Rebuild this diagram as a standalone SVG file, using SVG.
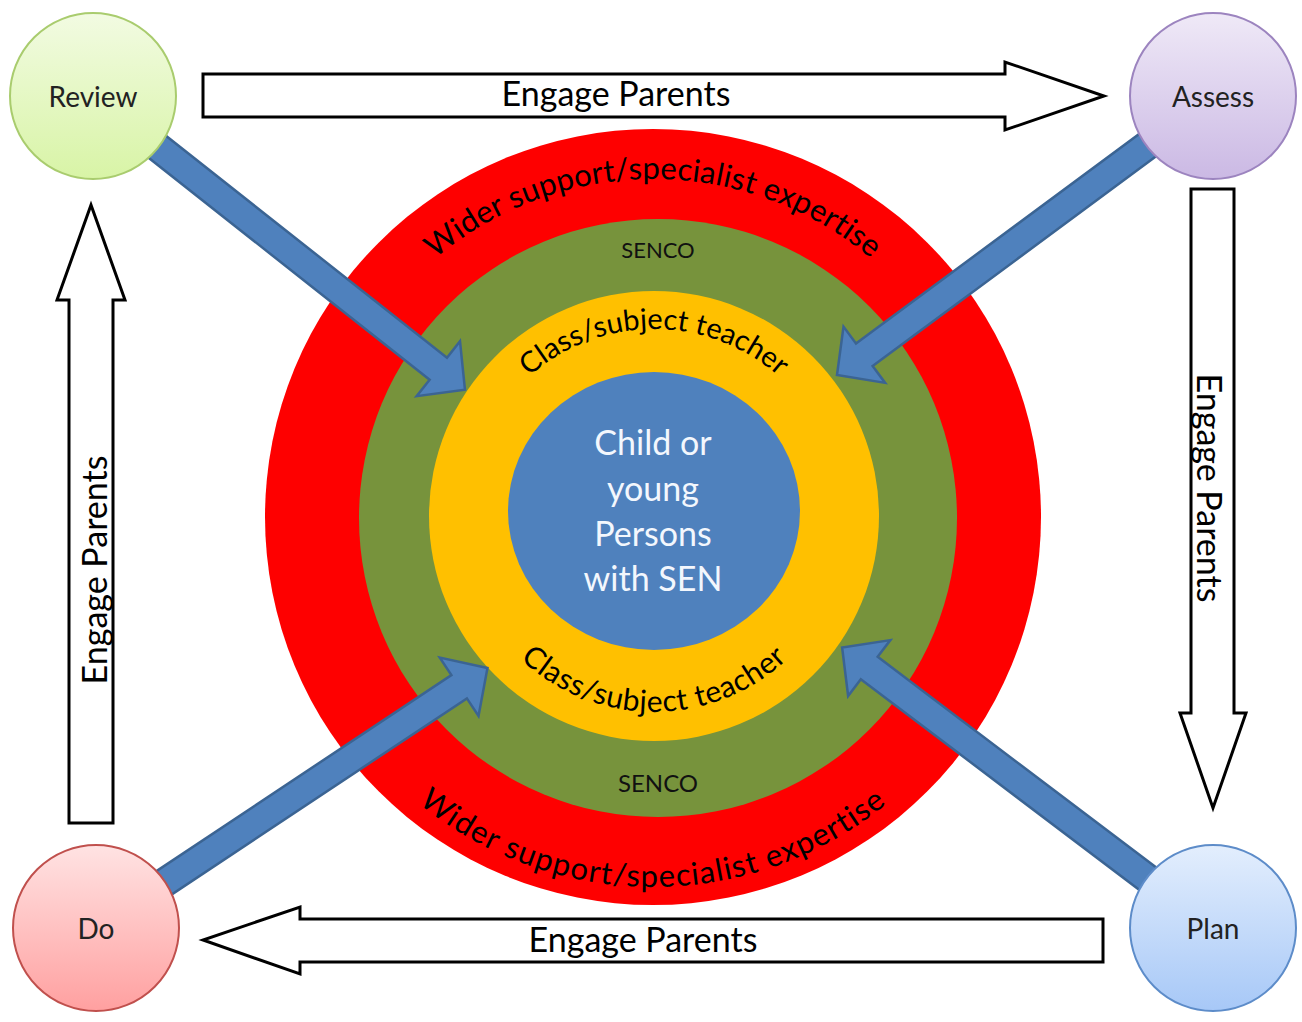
<svg xmlns="http://www.w3.org/2000/svg" width="1302" height="1022" viewBox="0 0 1302 1022">
<defs>
<style>
text{font-family:"Lato","Open Sans","Liberation Sans",sans-serif;}
.ring{font-size:31px;fill:#000;letter-spacing:0.2px;}
.cls{font-size:29px;fill:#000;}
.senco{font-size:22px;fill:#111;}
.core{font-size:34px;fill:#f3f7fd;text-anchor:middle;}
.eng{font-size:34px;fill:#000;text-anchor:middle;dominant-baseline:central;}
.node{font-size:28px;fill:#222;text-anchor:middle;dominant-baseline:central;}
.hollow{fill:#fff;stroke:#000;stroke-width:3;stroke-linejoin:miter;}
.blue{fill:#4f81bd;stroke:#3b6493;stroke-width:2.5;stroke-linejoin:miter;}
</style>
<linearGradient id="gReview" x1="0" y1="0" x2="0" y2="1"><stop offset="0" stop-color="#f2fbe2"/><stop offset="1" stop-color="#d8f4a6"/></linearGradient>
<linearGradient id="gAssess" x1="0" y1="0" x2="0" y2="1"><stop offset="0" stop-color="#efe9f7"/><stop offset="1" stop-color="#cbb9e4"/></linearGradient>
<linearGradient id="gDo" x1="0" y1="0" x2="0" y2="1"><stop offset="0" stop-color="#ffe3e3"/><stop offset="1" stop-color="#ffa0a0"/></linearGradient>
<linearGradient id="gPlan" x1="0" y1="0" x2="0" y2="1"><stop offset="0" stop-color="#e3eefd"/><stop offset="1" stop-color="#a7c8f7"/></linearGradient>
<path id="arcTopRed" d="M 315,517 A 338 338 0 0 1 991,517"/>
<path id="arcBotRed" d="M 283,517 A 370 370 0 0 0 1023,517"/>
<path id="arcTopYel" d="M 466,517 A 188 188 0 0 1 842,517"/>
<path id="arcBotYel" d="M 459,517 A 195 195 0 0 0 849,517"/>
</defs>

<g id="target">
<circle cx="653" cy="517" r="388" fill="#fe0000"/>
<circle cx="658" cy="518" r="299" fill="#77933c"/>
<circle cx="654" cy="516" r="225" fill="#ffc000"/>
<ellipse cx="654" cy="511" rx="146" ry="139" fill="#4f81bd"/>
<text class="ring"><textPath href="#arcTopRed" startOffset="50%" text-anchor="middle">Wider support/specialist  expertise</textPath></text>
<text class="ring" style="letter-spacing:1.2px"><textPath href="#arcBotRed" startOffset="50%" text-anchor="middle">Wider support/specialist  expertise</textPath></text>
<text class="senco" x="658" y="258" text-anchor="middle">SENCO</text>
<text class="senco" x="658" y="792" text-anchor="middle" style="font-size:24px">SENCO</text>
<text class="cls"><textPath href="#arcTopYel" startOffset="50%" text-anchor="middle">Class/subject  teacher</textPath></text>
<text class="cls" style="letter-spacing:0.6px;font-size:30px"><textPath href="#arcBotYel" startOffset="50%" text-anchor="middle">Class/subject  teacher</textPath></text>
<text class="core" x="653" y="455">Child or</text>
<text class="core" x="653" y="501">young</text>
<text class="core" x="653" y="546">Persons</text>
<text class="core" x="653" y="591">with SEN</text>
</g>

<g id="connectors">
<g id="engage-top">
<polygon class="hollow" points="203,74 1005,74 1005,62 1104,96 1005,130 1005,117 203,117"/>
<text class="eng" x="616" y="92">Engage Parents</text>
</g>
<g id="engage-right">
<polygon class="hollow" points="1191,189 1234,189 1234,713 1246,713 1213,808 1180,713 1191,713"/>
<text class="eng" transform="translate(1210,488) rotate(90)">Engage Parents</text>
</g>
<g id="engage-bottom">
<polygon class="hollow" points="1103,919 300,919 300,907 203,940 300,974 300,962 1103,962"/>
<text class="eng" x="643" y="938">Engage Parents</text>
</g>
<g id="engage-left">
<polygon class="hollow" points="69,823 69,300 57,300 91,205 125,300 113,300 113,823"/>
<text class="eng" transform="translate(93,570) rotate(-90)">Engage Parents</text>
</g>
<path class="blue" transform="translate(93,96) rotate(38.3) translate(474,0)" d="M -474,-14 L -34,-14 L -34,-35 L 0,0 L -34,35 L -34,14 L -474,14 Z"/>
<path class="blue" transform="translate(1214,96) rotate(143.5) translate(469,0)" d="M -469,-14 L -34,-14 L -34,-35 L 0,0 L -34,35 L -34,14 L -469,14 Z"/>
<path class="blue" transform="translate(96,928) rotate(-33.6) translate(470,0)" d="M -470,-14 L -34,-14 L -34,-35 L 0,0 L -34,35 L -34,14 L -470,14 Z"/>
<path class="blue" transform="translate(1213,928) rotate(-142.9) translate(465,0)" d="M -465,-14 L -34,-14 L -34,-35 L 0,0 L -34,35 L -34,14 L -465,14 Z"/>
</g>

<g id="review">
<circle cx="93" cy="96" r="83" fill="url(#gReview)" stroke="#a9cc6e" stroke-width="2"/>
<text class="node" x="93" y="96">Review</text>
</g>
<g id="assess">
<circle cx="1213" cy="96" r="83" fill="url(#gAssess)" stroke="#9c84bf" stroke-width="2"/>
<text class="node" x="1213" y="96">Assess</text>
</g>
<g id="do">
<circle cx="96" cy="928" r="83" fill="url(#gDo)" stroke="#c0504d" stroke-width="2"/>
<text class="node" x="96" y="928">Do</text>
</g>
<g id="plan">
<circle cx="1213" cy="928" r="83" fill="url(#gPlan)" stroke="#5d8cc9" stroke-width="2"/>
<text class="node" x="1213" y="928">Plan</text>
</g>
</svg>
